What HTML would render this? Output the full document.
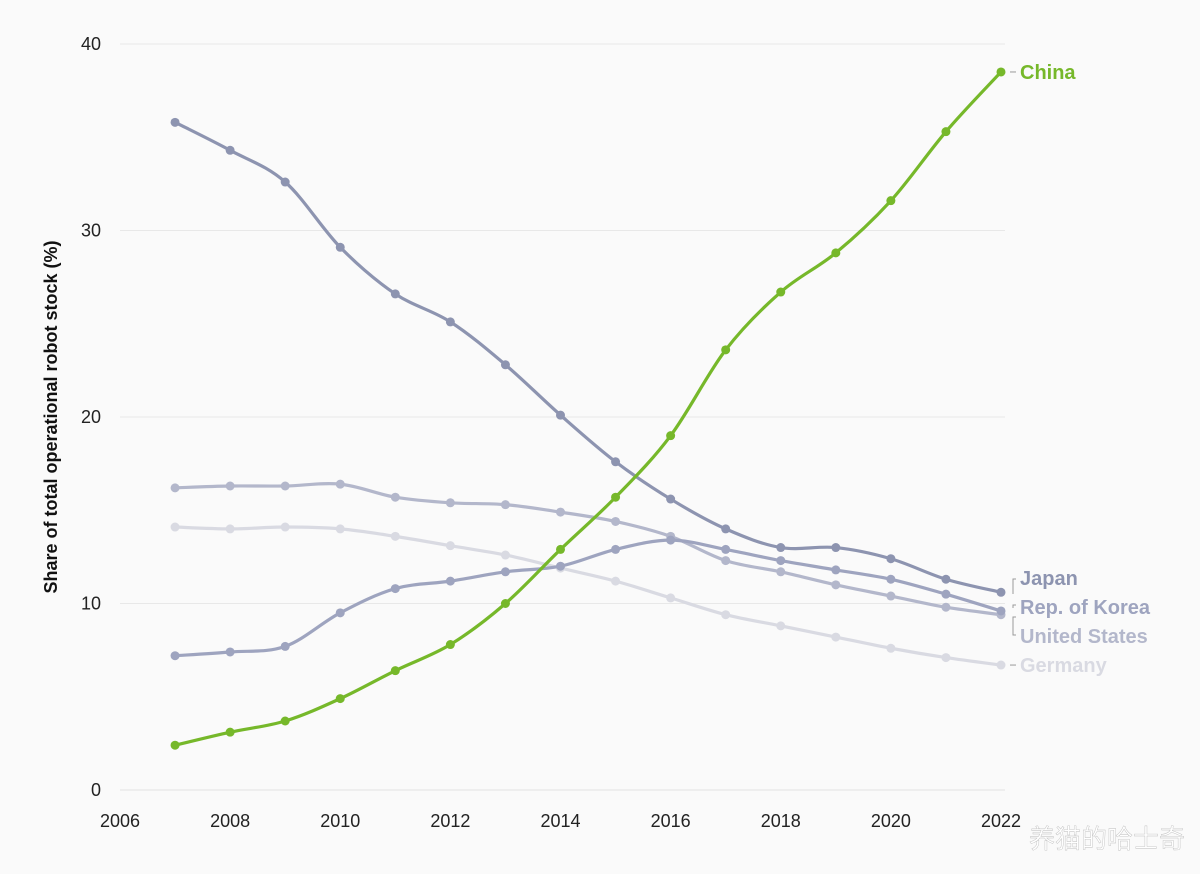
<!DOCTYPE html>
<html><head><meta charset="utf-8"><style>
html,body{margin:0;padding:0;background:#fafafa;}
svg{display:block;font-family:"Liberation Sans","DejaVu Sans",sans-serif;}
</style></head><body>
<svg id="chart" width="1200" height="874">
<rect width="1200" height="874" fill="#fafafa"/>
<g id="grid"></g>
<g id="axes"></g>
<g id="series"></g>
<path d="M1016,579 h-3 v15 M1016,605 h-3 v3 M1016,617 h-3 v18 h3" fill="none" stroke="#999" stroke-width="1"/>
<text x="1185" y="848" text-anchor="end" font-size="26" fill="#fff" stroke="#bbb" stroke-width="0.4" font-family="'Noto Sans CJK SC',sans-serif">养猫的哈士奇</text>
<text x="57" y="417" transform="rotate(-90 57 417)" text-anchor="middle" font-size="18" font-weight="bold" fill="#111">Share of total operational robot stock (%)</text>
</svg>
<script>
const years=[2007,2008,2009,2010,2011,2012,2013,2014,2015,2016,2017,2018,2019,2020,2021,2022];
const xTicks=[2006,2008,2010,2012,2014,2016,2018,2020,2022];
const yTicks=[0,10,20,30,40];
const china=[2.4,3.1,3.7,4.9,6.4,7.8,10.0,12.9,15.7,19.0,23.6,26.7,28.8,31.6,35.3,38.5];
const japan=[35.8,34.3,32.6,29.1,26.6,25.1,22.8,20.1,17.6,15.6,14.0,13.0,13.0,12.4,11.3,10.6];
const korea=[7.2,7.4,7.7,9.5,10.8,11.2,11.7,12.0,12.9,13.4,12.9,12.3,11.8,11.3,10.5,9.6];
const usa=[16.2,16.3,16.3,16.4,15.7,15.4,15.3,14.9,14.4,13.6,12.3,11.7,11.0,10.4,9.8,9.4];
const germany=[14.1,14.0,14.1,14.0,13.6,13.1,12.6,11.9,11.2,10.3,9.4,8.8,8.2,7.6,7.1,6.7];

const NS="http://www.w3.org/2000/svg";
const X=v=>120+(v-2006)*(881/16);
const Y=v=>790-v*18.65;
function mk(tag,attrs,parent){const e=document.createElementNS(NS,tag);for(const k in attrs)e.setAttribute(k,attrs[k]);parent.appendChild(e);return e;}
const grid=document.getElementById('grid'),axes=document.getElementById('axes'),ser=document.getElementById('series');
yTicks.forEach(t=>{
  const l=mk('line',{x1:120,x2:1005,y1:Y(t),y2:Y(t),stroke:t===0?'#e2e2e2':'#e8e8e8','stroke-width':1},grid);
  
  
  const tx=mk('text',{x:101,y:Y(t)+6,'text-anchor':'end','font-size':18,fill:'#222'},axes);
  tx.textContent=t;
  
  
});
xTicks.forEach(t=>{
  const tx=mk('text',{x:X(t),y:827,'text-anchor':'middle','font-size':18,fill:'#222'},axes);
  tx.textContent=t;
  
  
});
function smooth(pts){
  let d='M'+pts[0][0]+','+pts[0][1];
  for(let i=0;i<pts.length-1;i++){
    const p0=pts[i-1]||pts[i],p1=pts[i],p2=pts[i+1],p3=pts[i+2]||p2;
    const c1=[p1[0]+(p2[0]-p0[0])/6,p1[1]+(p2[1]-p0[1])/6];
    const c2=[p2[0]-(p3[0]-p1[0])/6,p2[1]-(p3[1]-p1[1])/6];
    d+=` C${c1[0]},${c1[1]} ${c2[0]},${c2[1]} ${p2[0]},${p2[1]}`;
  }
  return d;
}
const series=[
 {name:'germany',label:'Germany',vals:germany,color:'#d9dae2',ly:0},
 {name:'united-states',label:'United States',vals:usa,color:'#b3b7cb',ly:636},
 {name:'korea',label:'Rep. of Korea',vals:korea,color:'#9ea4bf',ly:607},
 {name:'japan',label:'Japan',vals:japan,color:'#8d94b0',ly:578},
 {name:'china',label:'China',vals:china,color:'#76b82a',ly:0}
];
series.forEach(s=>{
  const g=mk('g',{},ser);
  
  
  const pts=s.vals.map((v,i)=>[X(years[i]),Y(v)]);
  const p=mk('path',{d:smooth(pts),fill:'none',stroke:s.color,'stroke-width':3.2},g);
  
  
  pts.forEach((q,i)=>{
    const c=mk('circle',{cx:q[0],cy:q[1],r:4.5,fill:s.color},g);
    
    
  });
  const last=pts[pts.length-1];
  const ly=s.ly||last[1];
  const t=mk('text',{x:1020,y:ly+7,'font-size':20,'font-weight':'bold',fill:s.color},g);
  t.textContent=s.label;
  
  
  if(!s.ly){
    const dl=mk('line',{x1:1010,x2:1016,y1:last[1],y2:last[1],stroke:'#999','stroke-width':1},g);
    
    
  }
});
</script>
</body></html>
